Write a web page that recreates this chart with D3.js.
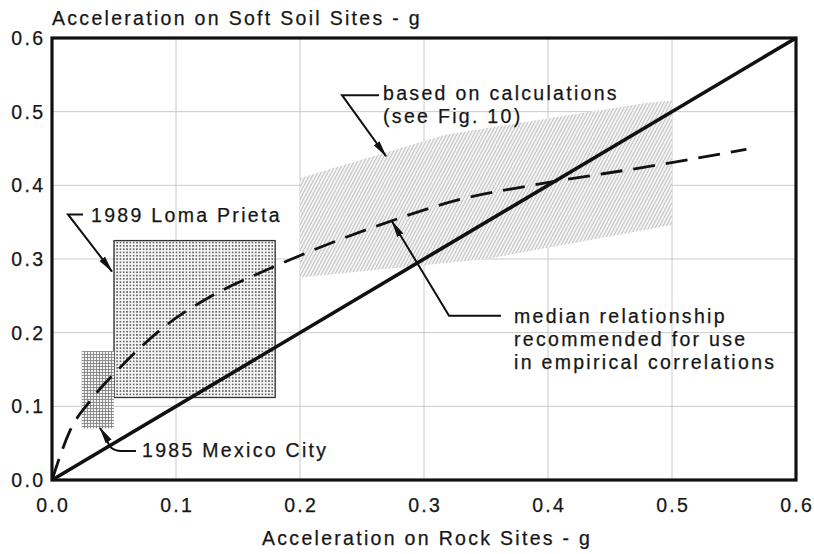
<!DOCTYPE html>
<html>
<head>
<meta charset="utf-8">
<script src="https://cdn.jsdelivr.net/npm/d3@7"></script>
<style>
  body { margin: 0; background: #fff; }
  text { font-family: "Liberation Sans", Arial, sans-serif; fill: #161616; stroke: #161616; stroke-width: 0.25px; }
</style>
</head>
<body>
<svg id="chart" width="814" height="554"></svg>
<script>
// ---- data ----
const xTicks = [0, 0.1, 0.2, 0.3, 0.4, 0.5, 0.6];
const yTicks = [0, 0.1, 0.2, 0.3, 0.4, 0.5, 0.6];
const xTitle = "Acceleration on Rock Sites - g";
const yTitle = "Acceleration on Soft Soil Sites - g";

// soil acceleration equal to rock acceleration
const equalX = [0, 0.6];
const equalY = [0, 0.6];

// median relationship (soft soil vs rock)
const medianX = [0, 0.014, 0.032, 0.054, 0.092, 0.129, 0.177, 0.264, 0.334, 0.387, 0.49, 0.56];
const medianY = [0, 0.065, 0.11, 0.151, 0.21, 0.25, 0.288, 0.346, 0.383, 0.40, 0.428, 0.449];

// recorded ranges
const recordNames   = ["1989 Loma Prieta", "1985 Mexico City"];
const recordRockMin = [0.05, 0.024];
const recordRockMax = [0.18, 0.05];
const recordSoilMin = [0.112, 0.07];
const recordSoilMax = [0.325, 0.175];

// band from site-response calculations (outline, clockwise)
const bandX = [0.2, 0.318, 0.48, 0.5, 0.5, 0.35, 0.2];
const bandY = [0.41, 0.469, 0.512, 0.515, 0.346, 0.30, 0.275];

const calcLabel = ["based on calculations", "(see Fig. 10)"];
const medianLabel = ["median relationship", "recommended for use", "in empirical correlations"];

// ---- layout ----
const svg = d3.select("#chart");
const x = d3.scaleLinear().domain([0, 0.6]).range([52, 796]);
const y = d3.scaleLinear().domain([0, 0.6]).range([480, 38]);
const FS = 19.5, LS = 2.3;

const defs = svg.append("defs");

// dot screen
const dots = defs.append("pattern").attr("id", "dots")
  .attr("patternUnits", "userSpaceOnUse").attr("width", 3.3).attr("height", 3.3);
dots.append("rect").attr("width", 3.3).attr("height", 3.3).attr("fill", "#f4f4f4");
dots.append("circle").attr("cx", 1.65).attr("cy", 1.65).attr("r", 0.85).attr("fill", "#3a3a3a");

// fine grid screen
const grid = defs.append("pattern").attr("id", "finegrid")
  .attr("patternUnits", "userSpaceOnUse").attr("width", 3).attr("height", 3);
grid.append("rect").attr("width", 3).attr("height", 3).attr("fill", "#f2f2f2");
grid.append("path").attr("d", "M0,0.5H3M0.5,0V3").attr("stroke", "#7a7a7a").attr("stroke-width", 0.8);

// steep hatching
const hatch = defs.append("pattern").attr("id", "hatch")
  .attr("patternUnits", "userSpaceOnUse").attr("width", 3).attr("height", 6)
  .attr("patternTransform", "rotate(28)");
hatch.append("rect").attr("width", 3).attr("height", 6).attr("fill", "#f4f4f4");
hatch.append("path").attr("d", "M1.5,0V6").attr("stroke", "#bbbbbb").attr("stroke-width", 0.9);

// arrowhead
defs.append("marker").attr("id", "arrow")
  .attr("viewBox", "0 0 17 8").attr("refX", 16).attr("refY", 4)
  .attr("markerUnits", "userSpaceOnUse").attr("markerWidth", 17).attr("markerHeight", 8)
  .attr("orient", "auto")
  .append("path").attr("d", "M0,0.5L17,4L0,7.5Z").attr("fill", "#111");

// gridlines
const g = svg.append("g");
g.selectAll(".gx").data(xTicks.slice(1, -1)).join("line")
  .attr("x1", d => x(d)).attr("x2", d => x(d)).attr("y1", y(0)).attr("y2", y(0.6))
  .attr("stroke", "#c4c4c4").attr("stroke-width", 0.9);
g.selectAll(".gy").data(yTicks.slice(1, -1)).join("line")
  .attr("y1", d => y(d)).attr("y2", d => y(d)).attr("x1", x(0)).attr("x2", x(0.6))
  .attr("stroke", "#c4c4c4").attr("stroke-width", 0.9);

// calculated band
svg.append("path")
  .attr("d", d3.line().x(d => x(d[0])).y(d => y(d[1])).curve(d3.curveLinearClosed)(bandX.map((v, i) => [v, bandY[i]])))
  .attr("fill", "url(#hatch)").attr("stroke", "none");

// recorded ranges
const recs = recordNames.map((n, i) => ({ n, x0: recordRockMin[i], x1: recordRockMax[i], y0: recordSoilMin[i], y1: recordSoilMax[i] }));
svg.selectAll(".rec").data(recs).join("rect")
  .attr("x", d => x(d.x0)).attr("width", d => x(d.x1) - x(d.x0))
  .attr("y", d => y(d.y1)).attr("height", d => y(d.y0) - y(d.y1))
  .attr("fill", (d, i) => i === 0 ? "url(#dots)" : "url(#finegrid)")
  .attr("stroke", (d, i) => i === 0 ? "#333" : "none").attr("stroke-width", 1.3);

// median relationship
svg.append("path")
  .attr("d", d3.line().x(d => x(d[0])).y(d => y(d[1])).curve(d3.curveMonotoneX)(medianX.map((v, i) => [v, medianY[i]])))
  .attr("fill", "none").attr("stroke", "#111").attr("stroke-width", 2.8)
  .attr("stroke-dasharray", "22,11");

// equal-acceleration line
svg.append("line")
  .attr("x1", x(equalX[0])).attr("y1", y(equalY[0])).attr("x2", x(equalX[1])).attr("y2", y(equalY[1]))
  .attr("stroke", "#111").attr("stroke-width", 3.6);

// frame
svg.append("rect").attr("x", x(0)).attr("y", y(0.6))
  .attr("width", x(0.6) - x(0)).attr("height", y(0) - y(0.6))
  .attr("fill", "none").attr("stroke", "#111").attr("stroke-width", 3.2);

// tick labels
svg.selectAll(".xt").data(xTicks).join("text")
  .attr("x", d => x(d) + LS / 2).attr("y", 512).attr("text-anchor", "middle")
  .attr("font-size", FS).attr("letter-spacing", LS).text(d => d.toFixed(1));
svg.selectAll(".yt").data(yTicks).join("text")
  .attr("x", 43 + LS).attr("y", d => y(d)).attr("dy", "0.36em").attr("text-anchor", "end")
  .attr("font-size", FS).attr("letter-spacing", LS).text(d => d.toFixed(1));

// axis titles
svg.append("text").attr("x", 52).attr("y", 25).attr("font-size", FS).attr("letter-spacing", LS).text(yTitle);
svg.append("text").attr("x", 262).attr("y", 545).attr("font-size", FS).attr("letter-spacing", LS).text(xTitle);

// annotations
const P = (a, b) => [x(a), y(b)];
function leader(pts) {
  svg.append("path").attr("d", d3.line()(pts.map(p => P(p[0], p[1]))))
    .attr("fill", "none").attr("stroke", "#111").attr("stroke-width", 2)
    .attr("marker-end", "url(#arrow)");
}
function label(lines, a, b, step) {
  const t = svg.append("text").attr("font-size", FS).attr("letter-spacing", LS);
  lines.forEach((s, i) => t.append("tspan").attr("x", x(a)).attr("y", y(b) + i * step).text(s));
}

// Loma Prieta
leader([[0.025, 0.3605], [0.0129, 0.3605], [0.0484, 0.283]]);
label([recordNames[0]], 0.0315, 0.3497, 0);

// Mexico City (hooked leader)
{
  const p = d3.path();
  const a = P(0.0677, 0.0395), b = P(0.0556, 0.0395), c = P(0.046, 0.0395), d = P(0.0444, 0.0558), e = P(0.0387, 0.0707);
  p.moveTo(...a); p.lineTo(...b); p.quadraticCurveTo(c[0], c[1], d[0], d[1]); p.lineTo(...e);
  svg.append("path").attr("d", p.toString()).attr("fill", "none").attr("stroke", "#111")
    .attr("stroke-width", 2).attr("marker-end", "url(#arrow)");
}
label([recordNames[1]], 0.0726, 0.0313, 0);

// calculations
leader([[0.2637, 0.5224], [0.2339, 0.5224], [0.2694, 0.4395]]);
label(calcLabel, 0.267, 0.5156, 23);

// median
leader([[0.3621, 0.2231], [0.3202, 0.2231], [0.2742, 0.351]]);
label(medianLabel, 0.3726, 0.2136, 23);
</script>
</body>
</html>
